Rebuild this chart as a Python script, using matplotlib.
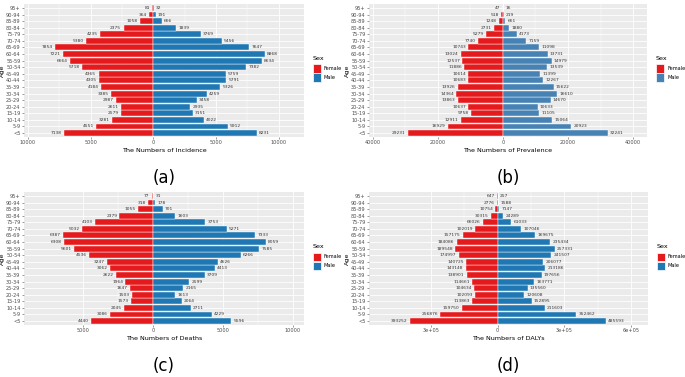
import numpy as np
import matplotlib
matplotlib.use("Agg")
import matplotlib.pyplot as plt
from matplotlib.patches import Rectangle

# Age groups, bottom to top
ages = ["<5", "5-9", "10-14", "15-19", "20-24", "25-29", "30-34", "35-39", "40-44",
        "45-49", "50-54", "55-59", "60-64", "65-69", "70-74", "75-79", "80-84",
        "85-89", "90-94", "95+"]

inc_female = [7138, 4551, 3281, 2579, 2611, 2987, 3385, 4184, 4305, 4365,
              5718, 6664, 7221, 7854, 5380, 4235, 2375, 1058, 364, 81]
inc_male = [8231, 5912, 4022, 3151, 2935, 3458, 4259, 5326, 5791, 5759,
            7382, 8634, 8868, 7647, 5456, 3769, 1839, 666, 191, 32]

prev_female = [29231, 16929, 12911, 9758, 10637, 13863, 14364, 13926, 10683, 10614,
               11886, 12537, 13024, 10743, 7740, 5279, 2731, 1248, 518, 47]
prev_male = [32241, 20923, 15064, 11105, 10633, 14670, 16610, 15622, 12267, 11399,
             13539, 14979, 13731, 11098, 7159, 4173, 1880, 661, 219, 16]

death_female = [4440, 3086, 2045, 1573, 1503, 1647, 1964, 2622, 3062, 3247,
                4536, 5601, 6308, 6387, 5032, 4103, 2379, 1055, 318, 77]
death_male = [5596, 4229, 2711, 2064, 1613, 2165, 2599, 3709, 4413, 4626,
              6266, 7585, 8059, 7333, 5271, 3753, 1603, 701, 178, 31]

daly_female = [393252, 256876, 159750, 113863, 102093, 104634, 114661, 138901, 143148, 140725,
               174997, 189548, 184086, 157175, 102019, 66026, 30315, 10754, 2776, 647]
daly_male = [485593, 352462, 211603, 152895, 120608, 135560, 163771, 197656, 213186, 206077,
             241507, 257331, 235434, 169675, 107046, 61033, 24289, 7147, 1588, 257]

RED = "#E41A1C"
BLUE = "#1F78B4"
STEEL = "#4682B4"
W, H = 685, 377


def px_axes(fig, left, top, right, bottom):
    return fig.add_axes([left / W, 1 - bottom / H, (right - left) / W, (bottom - top) / H])


def draw_panel(fig, box, female, male, xlim, ticks, ticklabels, xlabel, male_color, letter):
    left, top, right, bottom = box
    ax = px_axes(fig, left, top, right, bottom)
    y = np.arange(len(ages))
    f = -np.array(female)
    m = np.array(male)
    ax.barh(y, f, height=0.9, color=RED, edgecolor="white", linewidth=0.3, zorder=2)
    ax.barh(y, m, height=0.9, color=male_color, edgecolor="white", linewidth=0.3, zorder=2)
    pad = (xlim[1] - xlim[0]) * 0.008
    for yi, fv, mv in zip(y, female, male):
        ax.text(-fv - pad, yi, str(fv), ha="right", va="center", fontsize=3.2, color="#333333", zorder=3)
        ax.text(mv + pad, yi, str(mv), ha="left", va="center", fontsize=3.2, color="#333333", zorder=3)

    ax.set_xlim(xlim)
    ax.set_ylim(-0.6, len(ages) - 0.4)
    ax.set_facecolor("#EBEBEB")
    ax.set_xticks(ticks)
    ax.set_xticklabels(ticklabels)
    ax.set_xticks([(a + b) / 2 for a, b in zip(ticks[:-1], ticks[1:])], minor=True)
    ax.set_yticks(y)
    ax.set_yticklabels(ages)
    ax.grid(True, which="major", color="white", linewidth=0.6, zorder=0)
    ax.grid(True, which="minor", axis="x", color="white", linewidth=0.3, zorder=0)
    ax.set_axisbelow(True)
    for s in ax.spines.values():
        s.set_visible(False)
    ax.tick_params(axis="both", which="major", labelsize=3.6, colors="#4D4D4D",
                   length=1.5, width=0.4, pad=1)
    ax.tick_params(axis="both", which="minor", length=0)
    ax.set_xlabel(xlabel, fontsize=4.6, labelpad=2)
    ax.set_ylabel("Age", fontsize=4.6, labelpad=1)

    # legend
    lx = right + 9
    ly = top + (bottom - top) / 2 - 12
    fig.text(lx / W, 1 - ly / H, "Sex", fontsize=4.6, va="center", ha="left")
    for i, (lab, col) in enumerate([("Female", RED), ("Male", male_color)]):
        ky = ly + 6 + i * 9
        fig.patches.append(Rectangle((lx / W, 1 - (ky + 8) / H), 8 / W, 8 / H,
                                     transform=fig.transFigure, facecolor=col,
                                     edgecolor="white", linewidth=0.5))
        fig.text((lx + 11) / W, 1 - (ky + 4) / H, lab, fontsize=3.6, va="center", ha="left")

    fig.text((left + right) / 2 / W, 1 - (bottom + 41) / H, letter, fontsize=12,
             ha="center", va="center")
    return ax


fig = plt.figure(figsize=(6.85, 3.77), dpi=100)

draw_panel(fig, (24, 4, 304, 137), inc_female, inc_male, (-10300, 12000),
           [-10000, -5000, 0, 5000, 10000], ["10000", "5000", "0", "5000", "10000"],
           "The Numbers of Incidence", BLUE, "(a)")
draw_panel(fig, (369, 4, 647, 137), prev_female, prev_male, (-41200, 44300),
           [-40000, -20000, 0, 20000, 40000], ["40000", "20000", "0", "20000", "40000"],
           "The Numbers of Prevalence", STEEL, "(b)")
draw_panel(fig, (24, 192, 304, 325), death_female, death_male, (-9200, 10800),
           [-5000, 0, 5000, 10000], ["5000", "0", "5000", "10000"],
           "The Numbers of Deaths", BLUE, "(c)")
draw_panel(fig, (369, 192, 648, 325), daly_female, daly_male, (-577600, 676000),
           [-300000, 0, 300000, 600000], ["3e+05", "0", "3e+05", "6e+05"],
           "The Numbers of DALYs", BLUE, "(d)")

fig.savefig("out.png", dpi=100)
